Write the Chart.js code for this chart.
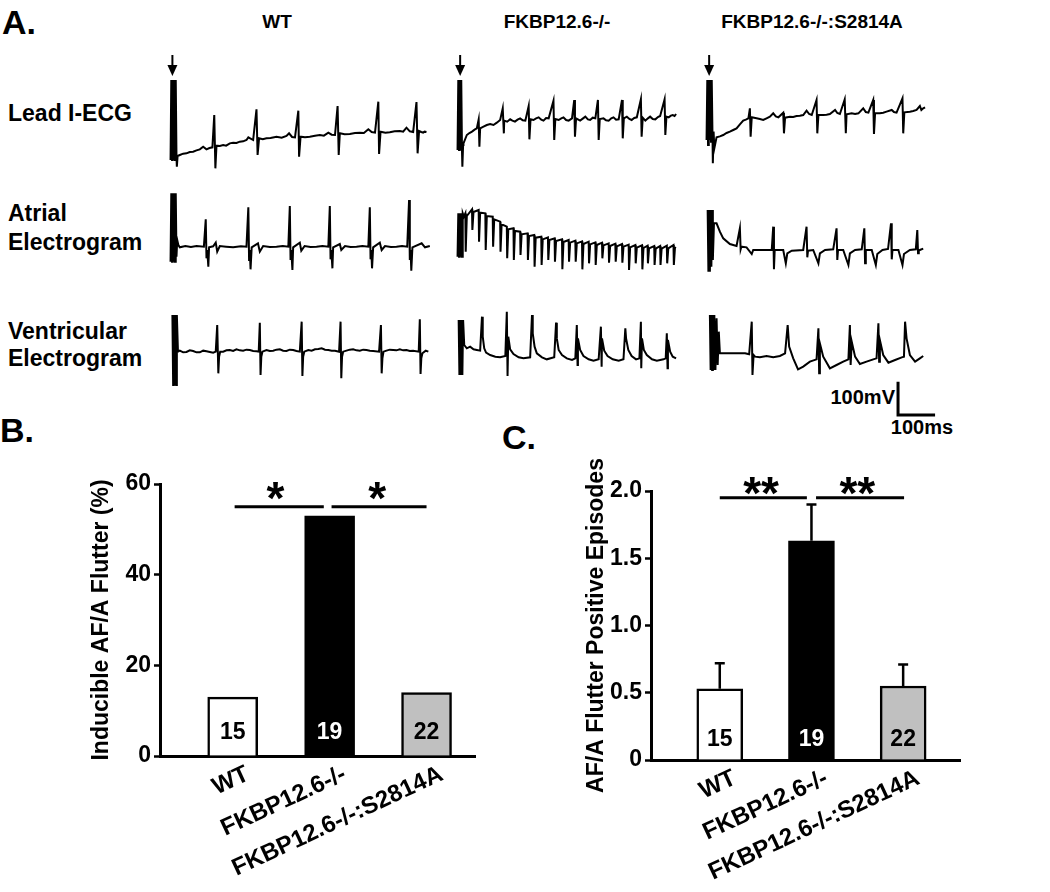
<!DOCTYPE html>
<html>
<head>
<meta charset="utf-8">
<script src="https://cdn.jsdelivr.net/npm/chart.js@4.4.0/dist/chart.umd.min.js"></script>
<style>
  body { margin: 0; background: #fff; }
  #page { position: relative; width: 1050px; height: 892px; overflow: hidden; background: #fff; }
  canvas { position: absolute; }
  .t { position: absolute; font-family: "Liberation Sans", Arial, sans-serif; font-weight: bold;
       white-space: nowrap; line-height: 1; color: #000; transform: translateY(-50%); }
  .c { transform: translate(-50%, -50%); }
  .r { transform: translate(-100%, -50%); }
</style>
</head>
<body>
<div id="page">
  <div class="t" style="left:2px;top:22px;font-size:34px">A.</div>
  <div class="t c" style="left:277px;top:21px;font-size:19px">WT</div>
  <div class="t c" style="left:557px;top:21px;font-size:19px">FKBP12.6-/-</div>
  <div class="t c" style="left:812px;top:21px;font-size:19px">FKBP12.6-/-:S2814A</div>

  <div class="t" style="left:8px;top:113px;font-size:23px">Lead I-ECG</div>
  <div class="t" style="left:8px;top:213px;font-size:23px">Atrial</div>
  <div class="t" style="left:8px;top:242px;font-size:23px">Electrogram</div>
  <div class="t" style="left:8px;top:331px;font-size:23px">Ventricular</div>
  <div class="t" style="left:8px;top:358px;font-size:23px">Electrogram</div>

  <div class="t r" style="left:895px;top:397px;font-size:20px">100mV</div>
  <div class="t c" style="left:922px;top:427px;font-size:20px">100ms</div>

  <div class="t" style="left:0px;top:430px;font-size:34px">B.</div>
  <div class="t" style="left:502px;top:437px;font-size:34px">C.</div>

  <canvas id="leadWT" width="270" height="130" style="left:165px;top:45px"></canvas>
  <canvas id="leadKO" width="240" height="130" style="left:452px;top:45px"></canvas>
  <canvas id="leadKI" width="240" height="130" style="left:701px;top:45px"></canvas>
  <canvas id="atrialWT" width="270" height="100" style="left:165px;top:180px"></canvas>
  <canvas id="atrialKO" width="240" height="100" style="left:452px;top:180px"></canvas>
  <canvas id="atrialKI" width="240" height="100" style="left:701px;top:180px"></canvas>
  <canvas id="ventWT" width="270" height="135" style="left:165px;top:305px"></canvas>
  <canvas id="ventKO" width="240" height="135" style="left:452px;top:305px"></canvas>
  <canvas id="ventKI" width="240" height="135" style="left:701px;top:305px"></canvas>

  <canvas id="panelB" width="402" height="432" style="left:88px;top:460px"></canvas>
  <canvas id="panelC" width="467" height="452" style="left:583px;top:440px"></canvas>
</div>
<script>
// ---- bar data (panels B and C) ----
const genotypes = ["WT", "FKBP12.6-/-", "FKBP12.6-/-:S2814A"];
const inducibleAF = [13, 53, 14];          // % of mice with inducible AF/A flutter
const episodes = [0.53, 1.63, 0.55];       // AF/A flutter positive episodes
const episodesSEM = [0.19, 0.27, 0.16];
const miceN = [15, 19, 22];

// ---- traces, [time ms, mV] ----
const leadWT = [[0,-15],[2,225],[4,-15],[6,225],[8,-15],[10,225],[12,-15],[14,225],[16,-5],[17,-35],[19,-3],
  [25,0],[34,4],[43,5],[52,9],[61,10],[70,14],[79,17],[88,25],[97,17],[105,21],[113,23],
  [118,120],[121,-40],[124,28],
  [133,27],[142,30],[150,28],[160,35],[169,37],[178,36],[187,40],[196,41],[205,45],[210,53],[223,45],
  [232,137],[235,0],[239,50],
  [249,47],[259,50],[270,51],[286,55],[300,52],[313,57],[320,65],[328,54],[336,53],
  [345,133],[347,-5],[351,55],
  [363,53],[376,55],[390,58],[403,60],[414,58],[426,67],[435,61],[444,60],
  [451,147],[454,0],[457,65],
  [470,62],[484,63],[498,66],[511,67],[522,66],[534,77],[543,69],[552,67],
  [561,160],[563,3],[567,70],
  [580,67],[592,68],[605,71],[619,72],[628,70],[637,82],[646,71],[655,69],
  [664,159],[667,5],[671,72],
  [677,69],[682,67],[686,70],[691,69]];

const leadKO = [[0,15],[2,225],[4,15],[6,225],[8,15],[10,225],[12,10],[13,-35],[15,30],
  [16,35],[25,60],[32,66],[39,70],[46,76],[52,80],
  [57,107],[59,25],[61,80],
  [70,85],[79,90],[88,93],[97,90],[106,97],[115,105],
  [122,140],[125,65],[126,103],
  [134,100],[142,107],[148,103],[155,100],[162,106],[169,110],[176,104],[183,103],
  [192,147],[194,47],[197,107],
  [205,105],[212,110],[219,113],[226,106],[232,103],[239,111],[246,110],
  [259,163],[261,45],[264,108],
  [273,105],[280,110],[286,113],[293,105],[300,103],[309,110],
  [315,165],[317,55],[320,110],
  [331,103],[338,109],[345,115],[352,107],[358,105],[365,112],[372,110],
  [379,165],[381,45],[384,108],
  [394,110],[401,104],[408,103],[415,110],[421,113],[428,106],[435,107],
  [444,165],[446,50],[449,110],
  [457,115],[464,108],[470,105],[477,111],[484,113],
  [495,167],[497,55],[500,112],
  [507,103],[514,110],[520,115],[527,108],[534,107],[541,114],[547,117],
  [559,167],[561,60],[564,115],
  [570,113],[576,118],[581,120],[586,117],[590,123]];

const leadKI = [[0,45],[2,225],[4,30],[6,225],[8,45],[10,225],[12,40],[14,225],[16,60],[17,-25],[19,70],[21,20],
  [27,53],[36,56],[45,60],[54,66],[63,70],[72,75],[81,80],[90,92],[99,103],[106,106],[113,110],
  [117,140],[119,55],[122,113],
  [135,110],[144,108],[153,105],[162,110],[171,115],[180,125],[187,116],[194,113],
  [207,127],[209,65],[212,112],
  [225,115],[234,114],[243,117],[252,118],[261,120],[270,133],[277,123],[284,120],
  [297,165],[299,65],[302,120],
  [315,120],[324,121],[333,123],[347,135],[353,126],[360,123],
  [373,167],[376,65],[378,122],
  [392,125],[401,123],[410,125],[423,140],[430,129],[437,127],
  [450,165],[452,63],[455,125],
  [468,125],[477,127],[486,130],[500,135],[506,129],[513,127],
  [529,170],[531,65],[534,128],
  [549,130],[558,132],[567,135],[576,147],[580,135],[585,140],[590,143]];

const atrialWT = [[0,-45],[2,160],[4,-45],[6,160],[8,-45],[10,160],[12,-45],[14,160],[16,-30],[18,20],[21,5],
  [25,-2],[40,2],[55,-1],[70,2],[90,0],
  [95,82],[97,-35],[99,-10],[102,-60],[104,-2],
  [115,1],[122,12],[126,-15],[133,2],[150,0],[169,-2],[190,1],[205,0],
  [210,118],[212,-40],[214,-10],[216,-68],[219,-2],
  [236,10],[241,-15],[250,2],[268,-1],[286,0],[303,2],[318,0],
  [322,122],[324,-40],[326,-10],[329,-70],[331,-2],
  [349,12],[353,-12],[362,2],[378,-1],[394,0],[410,2],[426,0],
  [430,122],[432,-38],[434,-10],[437,-65],[439,-2],
  [457,8],[461,-10],[471,2],[486,-1],[502,0],[518,2],[534,0],
  [538,118],[540,-38],[542,-10],[544,-65],[547,-2],
  [565,12],[570,-10],[579,2],[595,-1],[610,0],[625,2],[639,0],
  [644,140],[646,-40],[648,-10],[650,-72],[653,-2],
  [678,10],[687,-2],[700,2]];

const atrialKO = [[0,-30],[2,100],[4,-30],[6,100],[8,-30],[10,100],[12,-30],[14,100],[17,90],
  [21,100],[22,-15],[25,92],[39,112],[40,50],[43,104],[57,110],[58,15],[61,102],
  [75,100],[76,-10],[79,92],[95,90],[96,0],[99,82],[115,75],[116,-15],[119,67],
  [133,60],[134,-35],[137,52],[151,55],[152,-40],[155,47],[169,45],[170,-25],[173,37],
  [189,40],[190,-40],[193,32],[207,35],[208,-60],[211,27],[226,30],[227,-55],[230,22],
  [244,28],[245,-40],[248,20],[262,25],[263,-45],[266,17],[282,22],[283,-68],[286,14],
  [300,20],[301,-45],[304,12],[318,18],[319,-45],[322,10],[336,16],[337,-68],[340,8],
  [354,15],[355,-50],[358,7],[372,13],[373,-55],[376,5],[390,12],[391,-35],[394,4],
  [408,10],[409,-48],[412,2],[426,9],[427,-45],[430,1],[444,8],[445,-48],[448,0],
  [462,6],[463,-70],[466,-2],[480,5],[481,-50],[484,-3],[498,4],[499,-68],[502,-4],
  [513,3],[514,-50],[517,-5],[531,2],[532,-55],[535,-6],[547,2],[548,-55],[551,-6],
  [565,3],[566,-50],[569,-5],[583,5],[584,-55],[587,-3],[590,-4]];

const atrialKI = [[3,110],[5,-75],[7,110],[9,-75],[11,110],[13,-60],[15,110],[17,-40],[20,70],
  [27,70],[36,45],[45,25],[63,8],[81,2],
  [90,55],[92,-8],[94,0],
  [108,-2],[122,-22],[126,-10],[144,-10],[176,-10],
  [180,60],[182,-68],[184,-10],
  [207,-10],[214,-50],[218,-20],[230,-12],[261,-10],
  [270,60],[272,-32],[274,-12],
  [288,-10],[302,-50],[306,-20],[320,-10],[342,-8],
  [351,55],[353,-40],[355,-10],
  [369,-10],[383,-55],[387,-20],[401,-10],[419,-8],
  [426,55],[428,-50],[430,-10],
  [446,-10],[457,-55],[461,-22],[475,-10],[490,-7],
  [498,70],[500,-38],[502,-10],
  [518,-10],[529,-55],[533,-22],[549,-10],[565,-8],
  [569,50],[571,-20],[573,-12],
  [576,-10],[585,-6]];

const ventWT = [[5,110],[7,-100],[9,110],[11,-100],[13,110],[15,-100],[17,110],[20,0],
  [25,3],[34,-2],[43,-1],[52,4],[61,2],[70,-2],[79,-2],[88,3],[97,1],[106,-1],[115,-3],[122,0],
  [126,80],[129,-65],[131,-15],[134,0],
  [142,0],[151,4],[160,5],[169,2],[178,7],[187,4],[196,3],[205,6],[214,5],[223,2],[232,1],[238,0],
  [241,87],[243,-70],[245,-15],[248,0],
  [259,5],[268,2],[277,3],[286,6],[295,7],[304,3],[313,2],[322,6],[331,5],[340,2],[349,0],
  [354,90],[356,-73],[358,-15],[361,0],
  [372,5],[381,3],[390,7],[399,8],[408,10],[417,6],[426,5],[435,3],[444,3],[455,0],
  [459,90],[461,-80],[463,-15],[466,0],
  [475,3],[484,6],[493,7],[502,4],[511,3],[520,6],[529,5],[538,3],[547,2],[563,0],
  [568,80],[570,-65],[572,-20],[575,0],
  [583,3],[592,6],[601,5],[610,4],[619,7],[628,4],[637,5],[646,2],[655,3],[670,0],
  [673,97],[675,-67],[677,-20],[680,-5],
  [689,3],[696,0]];

const ventKO = [[3,95],[5,-70],[7,95],[9,-70],[11,95],[13,-70],[15,95],[18,20],
  [25,10],[34,15],[43,7],[52,5],[61,3],
  [66,105],[68,45],[72,10],[77,-3],[88,-10],[102,-15],[115,-17],[129,-13],
  [133,120],[135,-73],[137,45],[142,7],[151,-7],[165,-17],[178,-20],[196,-17],
  [201,110],[203,55],[208,15],[214,-5],[228,-17],[241,-23],[261,-17],
  [266,87],[268,40],[273,5],[282,-10],[295,-20],[309,-25],[318,-20],
  [322,80],[324,-40],[325,40],[331,5],[340,-13],[354,-23],[367,-27],[381,-23],
  [387,75],[389,-45],[390,40],[396,3],[405,-13],[419,-23],[435,-27],[448,-23],
  [453,70],[455,40],[461,5],[470,-13],[482,-23],[491,-20],
  [495,90],[496,-50],[498,40],[503,5],[511,-10],[525,-23],[538,-27],[556,-23],[562,-20],
  [565,55],[567,-50],[568,35],[574,0],[581,-15],[590,-20]];

const ventKI = [[9,110],[11,-55],[13,110],[15,-55],[17,110],[19,-55],[21,110],[24,-55],[27,100],[30,-40],[33,60],[36,-5],
  [70,-5],[104,-5],[115,-8],
  [122,90],[124,-70],[127,-10],[131,-15],[144,-17],[162,-13],[180,-17],[198,-13],[212,-5],
  [219,80],[223,15],[234,-20],[247,-53],[261,-45],[279,-30],[297,-23],
  [302,70],[304,-65],[306,25],[315,-15],[333,-50],[351,-40],[369,-30],[383,-23],
  [387,80],[389,-40],[392,30],[401,-15],[414,-37],[432,-30],[450,-23],[459,-20],
  [464,85],[466,-30],[468,35],[477,-10],[491,-33],[509,-25],[527,-17],[533,-15],
  [536,90],[540,40],[549,-10],[563,-30],[576,-20],[585,-13]];

const FONT = '"Liberation Sans", Arial, sans-serif';
Chart.defaults.font.family = FONT;
Chart.defaults.font.weight = "bold";
Chart.defaults.color = "#000";

// stimulus arrows and the calibration bar
const traceMarks = {
  id: "traceMarks",
  afterDatasetsDraw(chart, args, o) {
    const { ctx, scales: { x, y } } = chart;
    ctx.save();
    ctx.strokeStyle = "#000";
    ctx.fillStyle = "#000";
    if (o.arrow) {
      const px = x.getPixelForValue(o.arrow.t);
      const y0 = y.getPixelForValue(o.arrow.from);
      const y1 = y.getPixelForValue(o.arrow.to);
      ctx.lineWidth = 2;
      ctx.beginPath();
      ctx.moveTo(px, y0);
      ctx.lineTo(px, y1 - 9);
      ctx.stroke();
      ctx.beginPath();
      ctx.moveTo(px - 5, y1 - 11);
      ctx.lineTo(px + 5, y1 - 11);
      ctx.lineTo(px, y1);
      ctx.closePath();
      ctx.fill();
    }
    if (o.scaleBar) {
      const s = o.scaleBar;
      ctx.lineWidth = 3;
      ctx.beginPath();
      ctx.moveTo(x.getPixelForValue(s.t), y.getPixelForValue(s.v + s.dv));
      ctx.lineTo(x.getPixelForValue(s.t), y.getPixelForValue(s.v));
      ctx.lineTo(x.getPixelForValue(s.t + s.dt), y.getPixelForValue(s.v));
      ctx.stroke();
    }
    ctx.restore();
  }
};

const drawTrace = (id, points, yMin, yMax, marks) => {
  const canvas = document.getElementById(id);
  return new Chart(canvas, {
    type: "scatter",
    data: {
      datasets: [{
        data: points.map(p => ({ x: p[0], y: p[1] })),
        showLine: true,
        borderColor: "#000",
        borderWidth: 2,
        pointRadius: 0,
        tension: 0
      }]
    },
    options: {
      responsive: false,
      animation: false,
      events: [],
      layout: { padding: 0 },
      plugins: {
        legend: { display: false },
        tooltip: { enabled: false },
        traceMarks: marks || {}
      },
      scales: {
        x: { type: "linear", display: false, min: -15, max: -15 + canvas.width * 2.7 },
        y: { type: "linear", display: false, min: yMin, max: yMax }
      }
    },
    plugins: [traceMarks]
  });
};

drawTrace("leadWT", leadWT, -60, 330, { arrow: { t: 5, from: 300, to: 237 } });
drawTrace("leadKO", leadKO, -60, 330, { arrow: { t: 7, from: 300, to: 237 } });
drawTrace("leadKI", leadKI, -60, 330, { arrow: { t: 7, from: 300, to: 237 } });
drawTrace("atrialWT", atrialWT, -100, 200);
drawTrace("atrialKO", atrialKO, -100, 200);
drawTrace("atrialKI", atrialKI, -100, 200);
drawTrace("ventWT", ventWT, -265, 140);
drawTrace("ventKO", ventKO, -265, 140);
drawTrace("ventKI", ventKI, -265, 140, { scaleBar: { t: 517, v: -190, dt: 100, dv: 100 } });

// error bars, n inside bars, significance brackets
const barMarks = {
  id: "barMarks",
  afterDatasetsDraw(chart, args, o) {
    const { ctx, scales: { x, y } } = chart;
    ctx.save();
    ctx.strokeStyle = "#000";
    ctx.lineWidth = 2.5;
    (o.errors || []).forEach((e, i) => {
      const px = x.getPixelForValue(i + 1);
      const top = y.getPixelForValue(o.values[i] + e);
      ctx.beginPath();
      ctx.moveTo(px, y.getPixelForValue(o.values[i]));
      ctx.lineTo(px, top);
      ctx.moveTo(px - 5, top);
      ctx.lineTo(px + 5, top);
      ctx.stroke();
    });
    ctx.font = "bold 23px " + FONT;
    ctx.textAlign = "center";
    ctx.textBaseline = "middle";
    o.counts.forEach((n, i) => {
      ctx.fillStyle = o.countColors[i];
      ctx.fillText(String(n), x.getPixelForValue(i + 1), y.getPixelForValue(0) - o.countLift);
    });
    ctx.fillStyle = "#000";
    ctx.lineWidth = 3;
    ctx.font = "bold 46px " + FONT;
    ctx.textBaseline = "alphabetic";
    o.brackets.forEach(b => {
      const py = y.getPixelForValue(b.y);
      ctx.beginPath();
      ctx.moveTo(x.getPixelForValue(b.from), py);
      ctx.lineTo(x.getPixelForValue(b.to), py);
      ctx.stroke();
      const m = ctx.measureText(b.label);
      const cy = y.getPixelForValue(b.starY);
      const base = cy + (m.actualBoundingBoxAscent - m.actualBoundingBoxDescent) / 2;
      ctx.fillText(b.label, x.getPixelForValue(b.starX), base);
    });
    ctx.restore();
  }
};

const barPanel = (id, values, cfg) => new Chart(document.getElementById(id), {
  type: "bar",
  data: {
    datasets: [{
      data: values.map((v, i) => ({ x: i + 1, y: v })),
      backgroundColor: ["#ffffff", "#000000", "#c0c0c0"],
      borderColor: "#000",
      borderWidth: 2.5,
      barThickness: cfg.barWidth
    }]
  },
  options: {
    responsive: false,
    animation: false,
    events: [],
    layout: { padding: { top: cfg.padTop, right: cfg.padRight, left: 0, bottom: 0 } },
    plugins: {
      legend: { display: false },
      tooltip: { enabled: false },
      barMarks: cfg.marks
    },
    scales: {
      x: {
        type: "linear",
        offset: false,
        min: 0.25,
        max: cfg.xMax,
        afterBuildTicks: s => { s.ticks = genotypes.map((g, i) => ({ value: i + 1 })); },
        afterFit: s => { s.height = cfg.xHeight; },
        ticks: {
          callback: (v, i) => genotypes[i],
          minRotation: 25,
          maxRotation: 25,
          autoSkip: false,
          padding: 4,
          labelOffset: 15,
          font: { size: 24, weight: "bold" }
        },
        grid: { display: true, drawOnChartArea: false, drawTicks: false, offset: false },
        border: { display: true, color: "#000", width: 3 }
      },
      y: {
        min: 0,
        max: cfg.yMax,
        afterFit: s => { s.width = cfg.yWidth; },
        ticks: {
          stepSize: cfg.step,
          padding: 3,
          callback: cfg.tickFmt,
          font: { size: 23, weight: "bold" }
        },
        grid: { display: true, drawOnChartArea: false, drawTicks: true, tickLength: 6, tickWidth: 2.5, tickColor: "#000" },
        border: { display: true, color: "#000", width: 3 },
        title: { display: true, text: cfg.title, padding: 0, font: { size: 23, weight: "bold" } }
      }
    }
  },
  plugins: [barMarks]
});

barPanel("panelB", inducibleAF, {
  barWidth: 50, padTop: 24, padRight: 15, xMax: 3.5, xHeight: 136, yWidth: 72,
  yMax: 60, step: 20, tickFmt: v => String(v),
  title: "Inducible AF/A Flutter (%)",
  marks: {
    values: inducibleAF, counts: miceN, countColors: ["#000", "#fff", "#000"], countLift: 23,
    brackets: [
      { from: 1.02, to: 1.94, y: 55, label: "*", starX: 1.44, starY: 58.5 },
      { from: 2.02, to: 3.0, y: 55, label: "*", starX: 2.49, starY: 58.5 }
    ]
  }
});

barPanel("panelC", episodes, {
  barWidth: 46, padTop: 51, padRight: 90, xMax: 3.62, xHeight: 132, yWidth: 68,
  yMax: 2, step: 0.5, tickFmt: v => (v === 0 ? "0" : v.toFixed(1)),
  title: "AF/A Flutter Positive Episodes",
  marks: {
    values: episodes, errors: episodesSEM, counts: miceN, countColors: ["#000", "#fff", "#000"], countLift: 20,
    brackets: [
      { from: 1.0, to: 1.95, y: 1.95, label: "**", starX: 1.45, starY: 2.04 },
      { from: 2.05, to: 3.01, y: 1.95, label: "**", starX: 2.5, starY: 2.04 }
    ]
  }
});
</script>
</body>
</html>
